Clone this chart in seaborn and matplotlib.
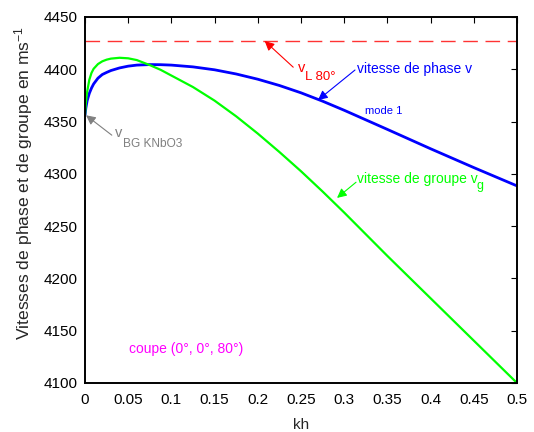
import matplotlib
matplotlib.use("Agg")
import matplotlib.pyplot as plt
import seaborn as sns
import pandas as pd

# ---- data ----
kh = [0, 0.001, 0.0025, 0.005, 0.0075, 0.01, 0.015, 0.02, 0.025, 0.03, 0.04,
      0.05, 0.06, 0.075, 0.0875, 0.1, 0.125, 0.15, 0.175, 0.2, 0.225, 0.25,
      0.275, 0.3, 0.35, 0.4, 0.45, 0.5]
v_phase = [4356, 4363, 4370, 4377, 4382, 4386, 4391.5, 4395, 4397, 4398.8, 4401.3,
           4403, 4404, 4404.5, 4404.4, 4404, 4402.3, 4399.5, 4395.5, 4390.5, 4384.5, 4377.5,
           4369.5, 4360.8, 4342.5, 4324, 4306, 4288.5]
v_groupe = [4356, 4368, 4378.5, 4390, 4396.5, 4400.5, 4405, 4407.6, 4409.2, 4410.2, 4411,
            4410.5, 4408.8, 4404, 4399.5, 4394, 4383, 4370, 4355, 4338.5, 4320.9, 4302.5,
            4283.1, 4263, 4221.5, 4181, 4140.5, 4100]
v_L80 = 4427
v_BG = 4356

xticks = [0, 0.05, 0.1, 0.15, 0.2, 0.25, 0.3, 0.35, 0.4, 0.45, 0.5]
xticklabels = ["0", "0.05", "0.1", "0.15", "0.2", "0.25", "0.3", "0.35", "0.4", "0.45", "0.5"]
yticks = [4100, 4150, 4200, 4250, 4300, 4350, 4400, 4450]

df = pd.DataFrame({"kh": kh, "phase": v_phase, "groupe": v_groupe})

sns.set_style("white")
plt.rcParams["font.family"] = ["Liberation Sans", "DejaVu Sans"]
plt.rcParams["mathtext.fontset"] = "custom"
plt.rcParams["mathtext.rm"] = "Liberation Sans"
plt.rcParams["mathtext.it"] = "Liberation Sans"
plt.rcParams["xtick.direction"] = "in"
plt.rcParams["ytick.direction"] = "in"

fig = plt.figure(figsize=(5.34, 4.32), dpi=100)
ax = fig.add_axes([85 / 534, 1 - 383 / 432, 432 / 534, 366 / 432])

sns.lineplot(data=df, x="kh", y="phase", color=(0, 0, 1), lw=2.0, ax=ax)
sns.lineplot(data=df, x="kh", y="groupe", color=(0, 1, 0), lw=1.6, ax=ax)
ax.axhline(v_L80, color=(1, 0.2, 0.2), lw=1.0, dashes=(10.5, 5.5))

ax.set_xlim(0, 0.5)
ax.set_ylim(4100, 4450)
ax.set_xticks(xticks)
ax.set_xticklabels(xticklabels)
ax.set_yticks(yticks)
ax.tick_params(axis="both", which="both", direction="in", length=4, width=0.8,
               labelsize=11, top=True, right=True, colors="black")
ax.tick_params(axis="x", pad=7)
ax.tick_params(axis="y", pad=5)
for s in ax.spines.values():
    s.set_visible(True)
    s.set_color("black")
    s.set_linewidth(1.4)

ax.set_xlabel("kh", fontsize=11, labelpad=8)
ax.set_ylabel(r"Vitesses de phase et de groupe en ms$^{\mathregular{-1}}$",
              fontsize=12.6, va="center")
ax.yaxis.set_label_coords((24 - 85) / 432, (383 - 183) / 366)

def arrow(head, tail, color):
    ax.annotate("", xy=head, xytext=tail,
                arrowprops=dict(arrowstyle="-|>", color=color, lw=0.8,
                                mutation_scale=14, shrinkA=0, shrinkB=0))

red = (1, 0, 0)
blue = (0, 0, 1)
green = (0, 1, 0)
gray = (0.5, 0.5, 0.5)
mag = (1, 0, 1)

# v_L 80°
arrow((0.208, v_L80), (0.241, 4402), red)
ax.text(0.2465, 4397.4, "v", color=red, fontsize=10.5, va="baseline")
ax.text(0.2546, 4389.8, "L 80°", color=red, fontsize=9.5, va="baseline")

# phase
arrow((0.2697, 4370.6), (0.3125, 4399.3), blue)
ax.text(0.3148, 4396.7, "vitesse de phase v", color=blue, fontsize=10, va="baseline")
ax.text(0.324, 4357.2, "mode 1", color=blue, fontsize=8, va="baseline")

# groupe
arrow((0.2917, 4277), (0.3137, 4292), green)
ax.text(0.315, 4291.3, "vitesse de groupe v", color=green, fontsize=10, va="baseline")
ax.text(0.4537, 4285.5, "g", color=green, fontsize=9, va="baseline")

# v_BG
arrow((0.0012, v_BG), (0.031, 4337), gray)
ax.text(0.0347, 4335, "v", color=gray, fontsize=10.5, va="baseline")
ax.text(0.0436, 4326, "BG KNbO3", color=gray, fontsize=8.6, va="baseline")

ax.text(0.051, 4129, "coupe (0°, 0°, 80°)", color=mag, fontsize=10, va="baseline")

fig.savefig("out.png", dpi=100)
